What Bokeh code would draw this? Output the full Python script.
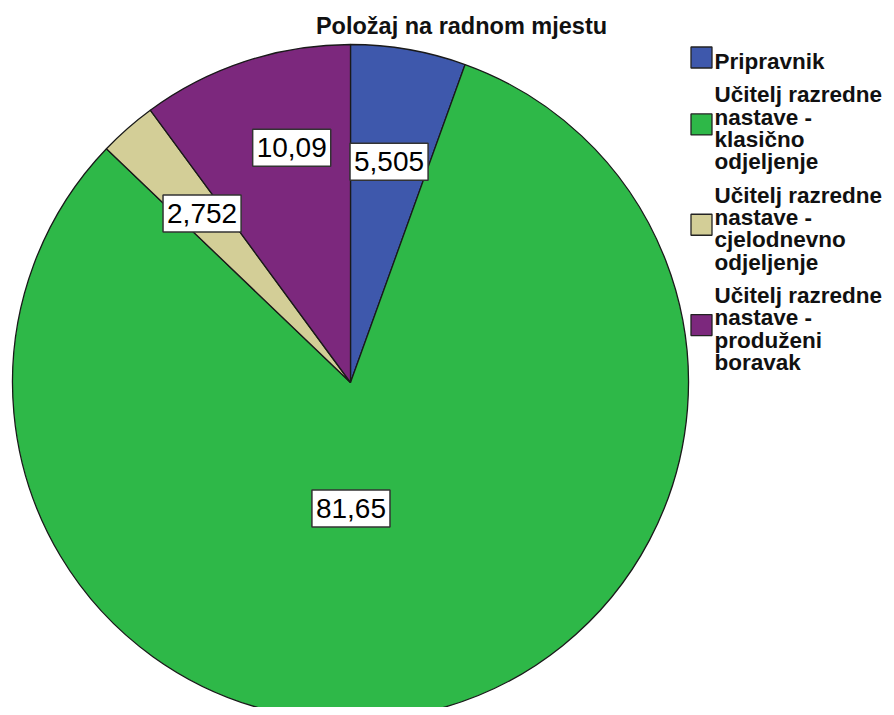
import math
from bokeh.plotting import figure
from bokeh.models import Range1d, ColumnDataSource
from bokeh.core.properties import value
from bokeh.embed import file_html
from bokeh.resources import INLINE

# ---- data ----
title_text = "Položaj na radnom mjestu"
categories = [
    "Pripravnik",
    "Učitelj razredne\nnastave -\nklasično\nodjeljenje",
    "Učitelj razredne\nnastave -\ncjelodnevno\nodjeljenje",
    "Učitelj razredne\nnastave -\nproduženi\nboravak",
]
percents = [5.505, 81.65, 2.752, 10.09]
labels = ["5,505", "81,65", "2,752", "10,09"]
colors = ["#3E58AC", "#2EB848", "#D3CE97", "#7C287D"]

# ---- styling / layout ----
FONT = "Liberation Sans"
W, H = 886, 707
cx, cy, R = 350, -382, 338
label_r = [224, 126, 225, 242]
label_shift_deg = [0, -13, 0, -4.1]
BASE_FIX = 8  # renderer places alphabetic baseline slightly low

p = figure(width=W, height=H, output_backend="svg", toolbar_location=None,
           x_range=Range1d(0, W), y_range=Range1d(-H, 0),
           min_border=0, outline_line_color=None)
p.axis.visible = False
p.grid.visible = False
p.background_fill_color = "white"
p.border_fill_color = "white"

total = sum(percents)
starts, ends, lx, ly = [], [], [], []
a = math.pi / 2
for i, v in enumerate(percents):
    sweep = v / total * 2 * math.pi
    starts.append(a)
    ends.append(a - sweep)
    mid = a - sweep / 2 + math.radians(label_shift_deg[i])
    lx.append(cx + label_r[i] * math.cos(mid))
    ly.append(cy + label_r[i] * math.sin(mid))
    a -= sweep

src = ColumnDataSource(dict(start=starts, end=ends, color=colors))
p.wedge(x=cx, y=cy, radius=R, start_angle="start", end_angle="end",
        direction="clock", fill_color="color", line_color="#1a1a1a",
        line_width=1.3, source=src)

p.text(x=lx, y=ly, text=labels, text_align="center", text_baseline="middle",
       text_font=value(FONT), text_font_size="28px", text_color="black",
       background_fill_color="white", border_line_color="#333333",
       border_line_width=1.5, padding=dict(x=4, y=9))

# title
p.text(x=[461], y=[-33 + BASE_FIX], text=[title_text], text_align="center",
       text_baseline="alphabetic", text_font=value(FONT),
       text_font_size="23.5px", text_font_style="bold", text_color="#111111")

# legend
line_pitch = 22.3
tx, ty, tt = [], [], []
sq_y = []
base = -69.0
for cat in categories:
    lines = cat.split("\n")
    ys = []
    for j, ln in enumerate(lines):
        y = base - j * line_pitch
        tx.append(714); ty.append(y + BASE_FIX); tt.append(ln); ys.append(y)
    sq_y.append(sum(ys) / len(ys) + 12)
    base = ys[-1] - line_pitch * 1.5

p.rect(x=[701] * len(categories), y=sq_y, width=21, height=21,
       fill_color=colors, line_color="#222222", line_width=1.3)
p.text(x=tx, y=ty, text=tt, text_align="left", text_baseline="alphabetic",
       text_font=value(FONT), text_font_size="22.5px", text_font_style="bold",
       text_color="#111111")

open("out.html", "w").write(file_html(p, INLINE))
